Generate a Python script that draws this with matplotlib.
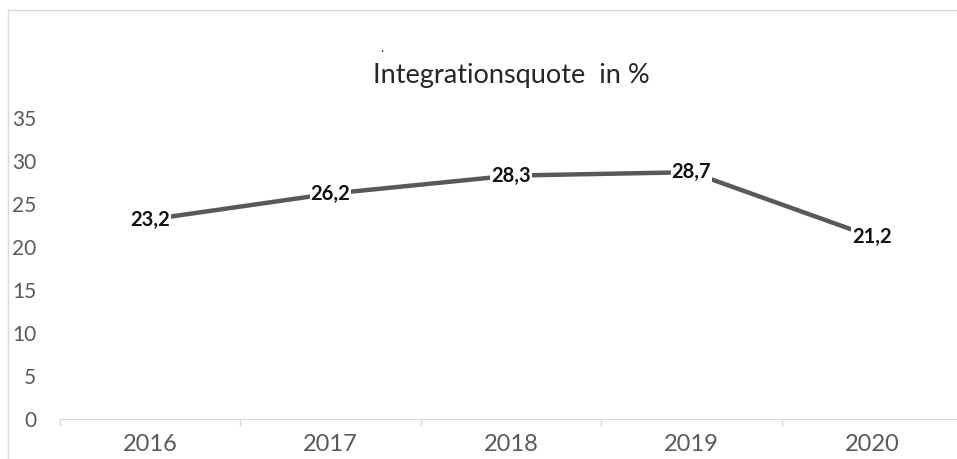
import matplotlib
matplotlib.use("Agg")
import matplotlib.pyplot as plt
from matplotlib.patches import Rectangle

years = ["2016", "2017", "2018", "2019", "2020"]
quote = [23.2, 26.2, 28.3, 28.7, 21.2]
yticks = [0, 5, 10, 15, 20, 25, 30, 35]

W, H = 957, 459
plt.rcParams["font.family"] = ["Lato", "DejaVu Sans"]

fig = plt.figure(figsize=(W / 100, H / 100), dpi=100)
ax = fig.add_axes([60 / W, 40 / H, 902 / W, 301 / H])

xs = list(range(len(years)))
ax.plot(xs, quote, color="#595959", lw=3.2, solid_capstyle="butt", clip_on=False)
for x, v in zip(xs, quote):
    ax.text(x, v, f"{v:.1f}".replace(".", ","), ha="center", va="center",
            fontsize=14.5, fontweight="bold", color="#111111",
            bbox=dict(boxstyle="square,pad=0.05", fc="white", ec="none"))

ax.set_xlim(-0.5, len(years) - 0.5)
ax.set_ylim(0, 35)
ax.set_yticks(yticks)
ax.set_yticklabels([str(t) for t in yticks], fontsize=15, color="#595959")
ax.tick_params(axis="y", length=0, pad=17)

ax.set_xticks([i - 0.5 for i in range(len(years) + 1)], minor=False)
ax.set_xticklabels([])
ax.set_xticks(xs, minor=True)
ax.set_xticklabels(years, minor=True, fontsize=17, color="#595959")
ax.tick_params(axis="x", which="major", length=5, color="#d9d9d9", width=1)
ax.tick_params(axis="x", which="minor", length=0, pad=11)

for s in ["top", "right", "left"]:
    ax.spines[s].set_visible(False)
ax.spines["bottom"].set_color("#d9d9d9")

fig.text(511 / W, 1 - 75 / H, "Integrationsquote  in %", ha="center", va="center",
         fontsize=19.5, color="#262626")
fig.text(382 / W, 1 - 48 / H, ".", ha="center", va="center", fontsize=10, color="#333333")

fig.patches.append(Rectangle((8 / W, -0.1), 1.1, 1 - 10 / H + 0.1, transform=fig.transFigure,
                             fill=False, ec="#d9d9d9", lw=1))

fig.savefig("out.png", dpi=100)
